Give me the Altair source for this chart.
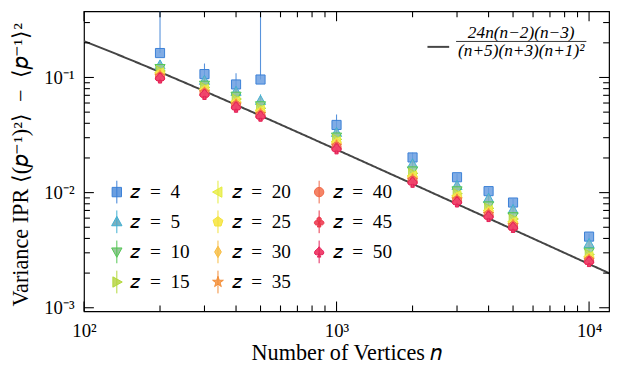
import altair as alt
import pandas as pd

# ---------------- data ----------------
n_vals = [200, 300, 400, 500, 1000, 2000, 3000, 4000, 5000, 10000]
z_vals = [4, 5, 10, 15, 20, 25, 30, 35, 40, 45, 50]

ipr_z4 = [0.163, 0.107, 0.087, 0.096, 0.0387, 0.0202, 0.0136, 0.0103, 0.0082, 0.00415]
ipr_z5 = [0.128, 0.094, 0.0755, 0.063, 0.0332, 0.0177, 0.0115, 0.0089, 0.0071, 0.0036]
ipr_z10 = [0.120, 0.086, 0.069, 0.057, 0.0305, 0.0155, 0.0104, 0.0077, 0.0062, 0.00305]
ipr_z15 = [0.114, 0.082, 0.065, 0.054, 0.0290, 0.0147, 0.0098, 0.0073, 0.0059, 0.00290]
ipr_z20 = [0.110, 0.079, 0.062, 0.052, 0.0278, 0.0140, 0.0094, 0.0070, 0.0056, 0.00278]
ipr_z25 = [0.107, 0.077, 0.060, 0.050, 0.0268, 0.0135, 0.0091, 0.0068, 0.0054, 0.00270]
ipr_z30 = [0.105, 0.075, 0.059, 0.049, 0.0261, 0.0132, 0.0088, 0.0066, 0.0053, 0.00264]
ipr_z35 = [0.103, 0.074, 0.058, 0.048, 0.0255, 0.0129, 0.0087, 0.0065, 0.0052, 0.00260]
ipr_z40 = [0.101, 0.073, 0.057, 0.047, 0.0250, 0.0127, 0.0085, 0.0064, 0.0051, 0.00257]
ipr_z45 = [0.100, 0.072, 0.056, 0.0465, 0.0245, 0.0125, 0.0084, 0.0063, 0.0050, 0.00254]
ipr_z50 = [0.099, 0.0713, 0.0552, 0.0462, 0.0240, 0.0123, 0.0083, 0.0062, 0.0050, 0.00252]

# error bar ends (upper / lower) for z=4 and z=5
err_hi_z4 = [0.9, 0.132, 0.109, 0.9, 0.0478, 0.0222, 0.0146, 0.0110, 0.0088, 0.0044]
err_lo_z4 = [0.163, 0.085, 0.068, 0.096, 0.031, 0.0182, 0.0126, 0.0096, 0.0076, 0.0039]
err_hi_z5 = [0.140, 0.103, 0.083, 0.0715, 0.0360, 0.0190, 0.0123, 0.0095, 0.0076, 0.00385]
err_lo_z5 = [0.116, 0.085, 0.068, 0.055, 0.0304, 0.0164, 0.0107, 0.0083, 0.0066, 0.00335]
# relative error for z >= 10
rel_err = {10: 0.09, 15: 0.09, 20: 0.09, 25: 0.09, 30: 0.09, 35: 0.09,
           40: 0.09, 45: 0.10, 50: 0.10}

# axis tick values
maj_x = [100, 1000, 10000]
min_x = [200, 300, 400, 500, 600, 700, 800, 900, 2000, 3000, 4000, 5000, 6000, 7000, 8000, 9000]
maj_y = [0.001, 0.01, 0.1]
min_y = [0.002, 0.003, 0.004, 0.005, 0.006, 0.007, 0.008, 0.009,
         0.02, 0.03, 0.04, 0.05, 0.06, 0.07, 0.08, 0.09, 0.2, 0.3]

formula_num = "24n(n\u22122)(n\u22123)"
formula_den = "(n+5)(n+3)(n+1)\u00b2"

series = {4: ipr_z4, 5: ipr_z5, 10: ipr_z10, 15: ipr_z15, 20: ipr_z20, 25: ipr_z25,
          30: ipr_z30, 35: ipr_z35, 40: ipr_z40, 45: ipr_z45, 50: ipr_z50}

rows = []
for z in z_vals:
    for i, n in enumerate(n_vals):
        v = series[z][i]
        if z == 4:
            lo, hi = err_lo_z4[i], err_hi_z4[i]
        elif z == 5:
            lo, hi = err_lo_z5[i], err_hi_z5[i]
        else:
            lo, hi = v * (1 - rel_err[z]), v * (1 + rel_err[z])
        rows.append({"n": n, "z": z, "v": v, "lo": lo, "hi": hi})
df = pd.DataFrame(rows)

# ---------------- styles ----------------
edge = {4: "#3b80d6", 5: "#3fb0d2", 10: "#52c652", 15: "#b2d83a", 20: "#e4ec3c",
        25: "#f2e23c", 30: "#f6bc42", 35: "#f28c36", 40: "#f06848", 45: "#ea3448",
        50: "#e4225a"}
fillc = {4: "#6a9ee0", 5: "#7cb0bf", 10: "#98c79a", 15: "#c2da62", 20: "#eef068",
         25: "#f8e858", 30: "#f9ca68", 35: "#f7a45c", 40: "#f58466", 45: "#f05064",
         50: "#f0446e"}


def circ(cx, cy, r):
    return (f"M{cx - r:.3f},{cy:.3f}A{r},{r} 0 1,1 {cx + r:.3f},{cy:.3f}"
            f"A{r},{r} 0 1,1 {cx - r:.3f},{cy:.3f}Z")


shape_path = {
    4: "M-0.95,-0.95L0.95,-0.95L0.95,0.95L-0.95,0.95Z",
    5: "M0,-1.1L1.05,0.8L-1.05,0.8Z",
    10: "M0,1.1L1.05,-0.8L-1.05,-0.8Z",
    15: "M1.1,0L-0.8,1.05L-0.8,-1.05Z",
    20: "M-1.1,0L0.8,1.05L0.8,-1.05Z",
    25: "M0,-1.05L1,-0.32L0.62,0.85L-0.62,0.85L-1,-0.32Z",
    30: "M0,-1.15L0.68,0L0,1.15L-0.68,0Z",
    35: ("M0,-1.15L0.26,-0.36L1.09,-0.36L0.42,0.14L0.68,0.93L0,0.44L-0.68,0.93"
         "L-0.42,0.14L-1.09,-0.36L-0.26,-0.36Z"),
    40: circ(0, 0, 0.95),
    45: circ(0, -0.5, 0.45) + circ(-0.52, 0.2, 0.45) + circ(0.52, 0.2, 0.45)
        + "M-0.1,0.1L0.1,0.1L0.35,1.05L-0.35,1.05Z",
    50: ("M0,-1.05C0.25,-0.6 1.0,-0.3 0.95,0.2C0.9,0.65 0.35,0.7 0.08,0.4L0.35,1.05"
         "L-0.35,1.05L-0.08,0.4C-0.35,0.7 -0.9,0.65 -0.95,0.2C-1.0,-0.3 -0.25,-0.6 0,-1.05Z"),
}
bar_path = "M0,-2.3L0,2.3"

W, H = 532, 304
FONT = "Liberation Serif"
MAJ, MIN = 10, 6

xscale = alt.Scale(type="log", domain=[100, 12000], nice=False)
yscale = alt.Scale(type="log", domain=[0.00093, 0.3754], nice=False)

sup = "{'-3':'10\u207b\u00b3','-2':'10\u207b\u00b2','-1':'10\u207b\u00b9','2':'10\u00b2','3':'10\u00b3','4':'10\u2074'}"
lab_expr = sup + "['' + round(log(datum.value)/LN10)]"

x_main = alt.X("n:Q", scale=xscale, axis=alt.Axis(
    orient="bottom", values=maj_x, ticks=False, domain=False, grid=False,
    labelExpr=lab_expr, labelFont=FONT, labelFontSize=19, labelPadding=10,
    labelFlush=False, labelColor="black", title="Number of Vertices 𝑛",
    titleFont=FONT, titleFontSize=22.5, titleFontWeight="normal", titleColor="black",
    titleY=49, titleBaseline="alphabetic"))
y_main = alt.Y("lo:Q", scale=yscale, axis=alt.Axis(
    orient="left", values=maj_y, ticks=False, domain=False, grid=False,
    labelExpr=lab_expr, labelFont=FONT, labelFontSize=19, labelPadding=10,
    labelFlush=False, labelColor="black",
    title="Variance IPR \u27e8(𝑝\u207b\u00b9)\u00b2\u27e9\u2002\u2212\u2002\u27e8𝑝\u207b\u00b9\u27e9\u00b2",
    titleFont=FONT, titleFontSize=22.5, titleFontWeight="normal", titleColor="black",
    titleX=-57, titleY=155, titleBaseline="alphabetic"))

edge_scale = alt.Scale(domain=z_vals, range=[edge[z] for z in z_vals])
fill_scale = alt.Scale(domain=z_vals, range=[fillc[z] for z in z_vals])
shape_scale = alt.Scale(domain=z_vals, range=[shape_path[z] for z in z_vals])
shape_scale_leg = alt.Scale(domain=z_vals,
                            range=[shape_path[z] + bar_path for z in z_vals])

errbars = alt.Chart(df).mark_rule(strokeWidth=1.1, opacity=0.85, clip=True).encode(
    x=x_main, y=y_main, y2="hi:Q",
    color=alt.Color("z:N", scale=edge_scale, legend=None),
)

points = alt.Chart(df).mark_point(filled=True, opacity=1, fillOpacity=0.85,
                                  strokeWidth=1, size=95, clip=True).encode(
    x=alt.X("n:Q", scale=xscale, axis=None),
    y=alt.Y("v:Q", scale=yscale, axis=None),
    fill=alt.Fill("z:N", scale=fill_scale, legend=None),
    stroke=alt.Stroke("z:N", scale=edge_scale, legend=None),
    shape=alt.Shape("z:N", scale=shape_scale, legend=None),
)

leg = alt.Legend(orient="none", legendX=23.5, legendY=173, columns=3, title=None,
                 labelFont=FONT, labelFontSize=19.5, labelColor="black",
                 labelExpr="'𝑧\u2002=\u2002' + datum.label", symbolSize=100,
                 symbolStrokeWidth=1, labelOffset=4, columnPadding=18.5,
                 rowPadding=2.5, gridAlign="all", padding=0)

legend_layer = alt.Chart(df).transform_filter("datum.z < 0").mark_point(
    filled=True, opacity=1, fillOpacity=0.85, strokeWidth=1, size=100).encode(
    x=alt.X("n:Q", scale=xscale, axis=None),
    y=alt.Y("v:Q", scale=yscale, axis=None),
    fill=alt.Fill("z:N", scale=fill_scale, legend=leg),
    stroke=alt.Stroke("z:N", scale=edge_scale, legend=leg),
    shape=alt.Shape("z:N", scale=shape_scale_leg, legend=leg),
)

curve = alt.Chart(alt.sequence(2, 4.085, 0.005, as_="t")).transform_calculate(
    n="pow(10, datum.t)"
).transform_calculate(
    f="24*datum.n*(datum.n-2)*(datum.n-3)/((datum.n+5)*(datum.n+3)*pow(datum.n+1,2))"
).mark_line(color="#454545", strokeWidth=2, clip=True).encode(
    x=alt.X("n:Q", scale=xscale, axis=None),
    y=alt.Y("f:Q", scale=yscale, axis=None),
)

# inward ticks on all four sides, drawn from the tick value lists through the scales
xt_maj = pd.DataFrame({"n": maj_x})
xt_min = pd.DataFrame({"n": min_x})
yt_maj = pd.DataFrame({"v": maj_y})
yt_min = pd.DataFrame({"v": min_y})
tick_layers = []
for dat, ln in ((xt_maj, MAJ), (xt_min, MIN)):
    for y0, y1 in ((H, H - ln), (0, ln)):
        tick_layers.append(alt.Chart(dat).mark_rule(color="black", strokeWidth=1.1).encode(
            x=alt.X("n:Q", scale=xscale, axis=None), y=alt.value(y0), y2=alt.value(y1)))
for dat, ln in ((yt_maj, MAJ), (yt_min, MIN)):
    for x0, x1 in ((0, ln), (W, W - ln)):
        tick_layers.append(alt.Chart(dat).mark_rule(color="black", strokeWidth=1.1).encode(
            y=alt.Y("v:Q", scale=yscale, axis=None), x=alt.value(x0), x2=alt.value(x1)))

# formula legend (top right)
fl_data = pd.DataFrame({"num": [formula_num], "den": [formula_den]})
fl_line = alt.Chart(fl_data).mark_rule(color="#454545", strokeWidth=2).encode(
    x=alt.value(348), x2=alt.value(370), y=alt.value(36))
fl_bar = alt.Chart(fl_data).mark_rule(color="black", strokeWidth=0.8).encode(
    x=alt.value(377), x2=alt.value(509), y=alt.value(30.5))
fl_num = alt.Chart(fl_data).mark_text(font=FONT, fontSize=17.5, fontStyle="italic",
                                      color="black", baseline="alphabetic").encode(
    x=alt.value(443), y=alt.value(27.5), text="num:N")
fl_den = alt.Chart(fl_data).mark_text(font=FONT, fontSize=17.5, fontStyle="italic",
                                      color="black", baseline="alphabetic").encode(
    x=alt.value(443), y=alt.value(45), text="den:N")

chart = alt.layer(
    errbars, curve, points, legend_layer, *tick_layers, fl_line, fl_bar, fl_num, fl_den
).resolve_axis(x="independent", y="independent").resolve_scale(
    fill="independent", stroke="independent", shape="independent", color="independent"
).properties(
    width=W, height=H, autosize=alt.AutoSizeParams(type="none"),
    padding={"left": 77, "top": 1, "right": 5, "bottom": 56},
).configure_view(stroke="black", strokeWidth=1.2).configure_axis(grid=False)

chart.save("out.html", embed_options={"renderer": "svg", "actions": False})
